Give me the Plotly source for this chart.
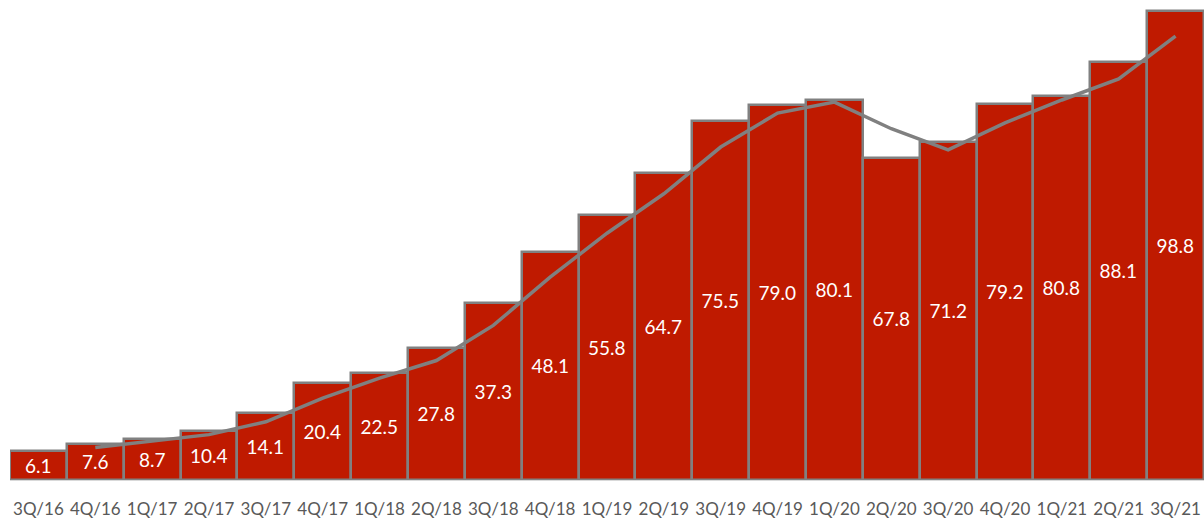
import plotly.graph_objects as go

categories = ["3Q/16", "4Q/16", "1Q/17", "2Q/17", "3Q/17", "4Q/17", "1Q/18", "2Q/18",
              "3Q/18", "4Q/18", "1Q/19", "2Q/19", "3Q/19", "4Q/19", "1Q/20", "2Q/20",
              "3Q/20", "4Q/20", "1Q/21", "2Q/21", "3Q/21"]
values = [6.1, 7.6, 8.7, 10.4, 14.1, 20.4, 22.5, 27.8, 37.3, 48.1, 55.8, 64.7,
          75.5, 79.0, 80.1, 67.8, 71.2, 79.2, 80.8, 88.1, 98.8]
# 2-period moving-average trendline (starts at 4Q/16)
trend_categories = categories[1:]
trend_values = [6.85, 8.15, 9.55, 12.25, 17.25, 21.45, 25.15, 32.55, 42.7, 51.95,
                60.25, 70.1, 77.25, 79.55, 73.95, 69.5, 75.2, 80.0, 84.45, 93.45]
labels = [f"{v:.1f}" for v in values]

BAR = "#BF1A00"
GRAY = "#808080"
FONT = "Lato"

fig = go.Figure()
fig.add_trace(go.Bar(
    x=categories, y=values,
    marker=dict(color=BAR, line=dict(color=GRAY, width=2.5)),
    text=labels, textposition="inside", insidetextanchor="middle",
    textangle=0,
    textfont=dict(family=FONT, size=19, color="white"),
    cliponaxis=False,
))
fig.add_trace(go.Scatter(
    x=trend_categories, y=trend_values, mode="lines",
    line=dict(color=GRAY, width=3.5),
))

fig.update_layout(
    width=1204, height=518,
    margin=dict(l=10, r=0, t=5, b=38),
    paper_bgcolor="white", plot_bgcolor="white",
    showlegend=False,
    bargap=0,
    uniformtext=dict(minsize=19, mode="show"),
    xaxis=dict(
        type="category", showgrid=False, zeroline=False,
        showline=True, linecolor="#D9D9D9", linewidth=1,
        ticks="", ticklabelstandoff=14,
        tickfont=dict(family=FONT, size=17, color="#595959"),
    ),
    yaxis=dict(range=[0, 100], visible=False, showgrid=False, zeroline=False),
)

fig.write_html("out.html")
